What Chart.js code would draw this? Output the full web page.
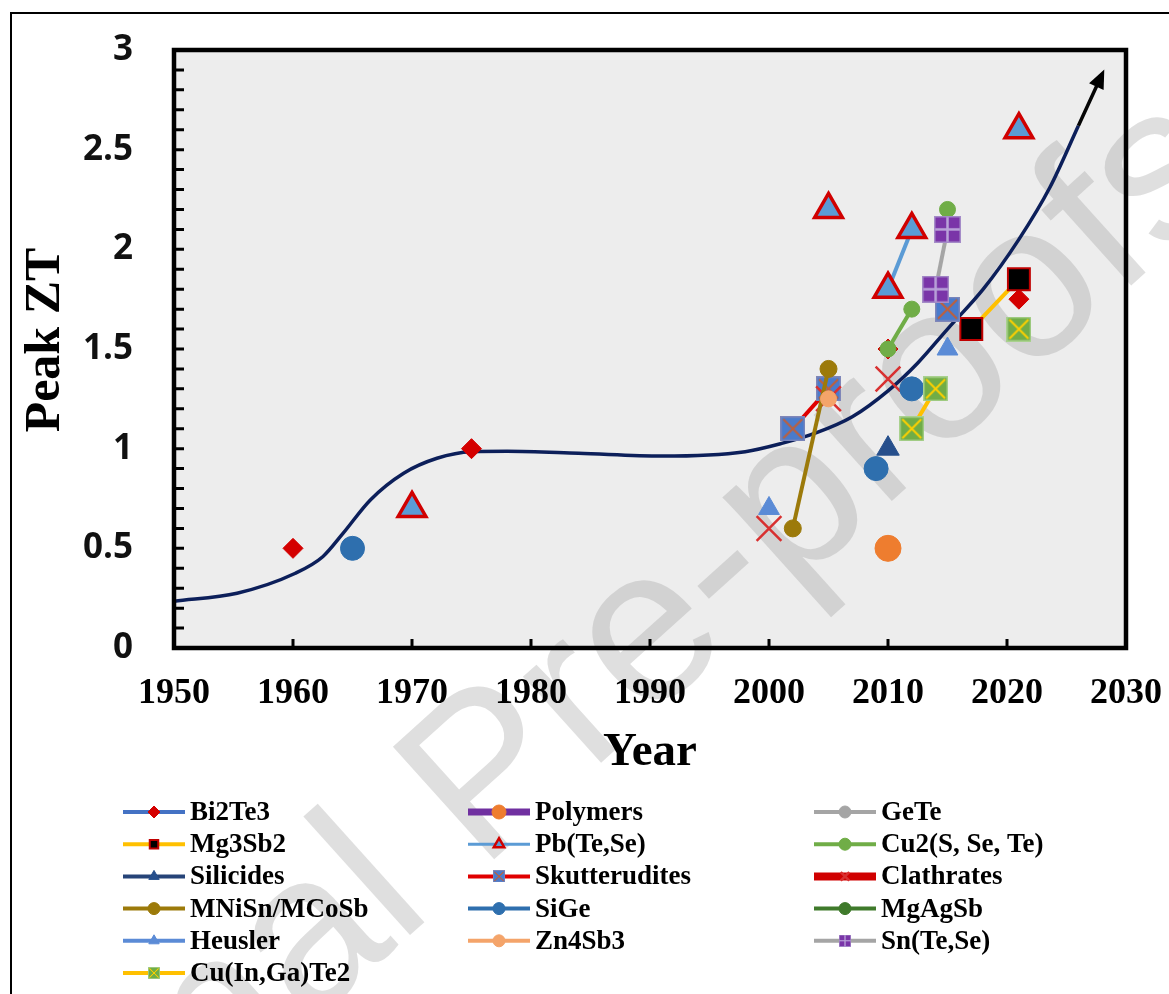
<!DOCTYPE html>
<html>
<head>
<meta charset="utf-8">
<script src="https://cdn.jsdelivr.net/npm/chart.js@4.4.1/dist/chart.umd.min.js"></script>
<style>
  html, body { margin: 0; padding: 0; background: #fff; }
  canvas { display: block; }
</style>
</head>
<body>
<canvas id="myChart" width="1169" height="994"></canvas>
<script>
// values; a null pair breaks the connecting line
const bi2te3Years = [1960, 1975, 2010, 2021]
const bi2te3ZT = [0.5, 1.0, 1.5, 1.75]
const polymerYears = [2010]
const polymerZT = [0.5]
const geteYears = []
const geteZT = []
const mg3sb2Years = [2017, 2021]
const mg3sb2ZT = [1.6, 1.85]
const pbteYears = [1970, null, 2005, null, 2010, 2012, null, 2021]
const pbteZT = [0.7, null, 2.2, null, 1.8, 2.1, null, 2.6]
const cu2Years = [2010, 2012, null, 2015]
const cu2ZT = [1.5, 1.7, null, 2.2]
const silicideYears = [2010]
const silicideZT = [1.0]
const skuttYears = [2002, 2005, null, 2015]
const skuttZT = [1.1, 1.3, null, 1.7]
const clathYears = [2000, 2005, 2010]
const clathZT = [0.6, 1.25, 1.35]
const mnisnYears = [2002, 2005]
const mnisnZT = [0.6, 1.4]
const sigeYears = [1965, 2009, 2012]
const sigeZT = [0.5, 0.9, 1.3]
const mgagsbYears = []
const mgagsbZT = []
const heuslerYears = [2000, 2015]
const heuslerZT = [0.7, 1.5]
const zn4sb3Years = [2005]
const zn4sb3ZT = [1.25]
const sntenYears = [2014, 2015]
const sntenZT = [1.8, 2.1]
const cigtYears = [2012, 2014, null, 2021]
const cigtZT = [1.1, 1.3, null, 1.6]

// hand-drawn trend curve
const curveYears = [1950, 1955.3, 1960.2, 1962.5, 1964.2, 1966.5, 1969.3, 1972.1, 1975, 1978, 1984, 1991, 1998, 2001, 2004, 2007, 2010, 2012.5, 2015, 2018, 2021, 2023.6, 2026, 2028]
const curveZT = [0.235, 0.275, 0.375, 0.458, 0.575, 0.743, 0.877, 0.952, 0.985, 0.987, 0.977, 0.963, 0.985, 1.025, 1.08, 1.16, 1.29, 1.43, 1.6, 1.8, 2.05, 2.31, 2.62, 2.88]

const xTicks = [1950, 1960, 1970, 1980, 1990, 2000, 2010, 2020, 2030]
const yTicks = [0, 0.5, 1, 1.5, 2, 2.5, 3]

const pts = (xs, ys) => xs.map((x, i) => ({ x, y: ys[i] }))

// excel-like boxed markers (x in a square, plus in a square)
function boxMarker (size, fill, edge, lineColor, kind) {
  const c = document.createElement('canvas')
  c.width = size
  c.height = size
  const g = c.getContext('2d')
  g.fillStyle = fill
  g.fillRect(0, 0, size, size)
  g.strokeStyle = lineColor
  g.lineWidth = kind === 'x' ? 2 : 2.5
  g.beginPath()
  if (kind === 'x') {
    g.moveTo(3, 3); g.lineTo(size - 3, size - 3)
    g.moveTo(size - 3, 3); g.lineTo(3, size - 3)
  } else {
    g.moveTo(size / 2, 1); g.lineTo(size / 2, size - 1)
    g.moveTo(1, size / 2); g.lineTo(size - 1, size / 2)
  }
  g.stroke()
  g.strokeStyle = edge
  g.lineWidth = 1.5
  g.strokeRect(0.75, 0.75, size - 1.5, size - 1.5)
  return c
}

const skuttMarker = boxMarker(25, '#4a7bcc', '#7f86b8', '#c0603a', 'x')
const cigtMarker = boxMarker(25, '#70ad47', '#a9d18e', '#ffd000', 'x')
const snteMarker = boxMarker(27, '#7a35a8', '#a58cc8', '#b9a3d9', 'plus')

function series (label, xs, ys, o) {
  return {
    label,
    data: pts(xs, ys),
    showLine: !!o.join,
    spanGaps: false,
    borderColor: o.line,
    borderWidth: 4,
    pointStyle: o.style,
    pointRadius: o.r,
    pointHoverRadius: o.r,
    pointBackgroundColor: o.fill,
    pointBorderColor: o.edge || o.fill,
    pointBorderWidth: o.bw ?? 1,
    legendWidth: o.lw || 4,
    legendR: o.lr || 6,
  }
}

const datasets = [
  series('Bi2Te3', bi2te3Years, bi2te3ZT, { line: '#4472c4', style: 'rectRot', fill: '#d40000', r: 10 }),
  series('Polymers', polymerYears, polymerZT, { line: '#7030a0', style: 'circle', fill: '#ee7d2f', r: 13, lw: 7, lr: 7 }),
  series('GeTe', geteYears, geteZT, { line: '#a5a5a5', style: 'circle', fill: '#a5a5a5', r: 7 }),
  series('Mg3Sb2', mg3sb2Years, mg3sb2ZT, { join: true, line: '#ffc000', style: 'rect', fill: '#000', edge: '#c00000', bw: 2, r: 15.5 }),
  series('Pb(Te,Se)', pbteYears, pbteZT, { join: true, line: '#5b9bd5', style: 'triangle', fill: '#5b9bd5', edge: '#d00000', bw: 3.5, r: 16, lw: 3 }),
  series('Cu2(S, Se, Te)', cu2Years, cu2ZT, { join: true, line: '#70ad47', style: 'circle', fill: '#70ad47', r: 8 }),
  series('Silicides', silicideYears, silicideZT, { line: '#264478', style: 'triangle', fill: '#264f8c', r: 13 }),
  series('Skutterudites', skuttYears, skuttZT, { join: true, line: '#e00000', style: skuttMarker, fill: '#4a7bcc', r: 12 }),
  series('Clathrates', clathYears, clathZT, { line: '#d00000', style: 'crossRot', fill: 'transparent', edge: '#d83030', bw: 2.5, r: 17.5, lw: 8 }),
  series('MNiSn/MCoSb', mnisnYears, mnisnZT, { join: true, line: '#9c7a0a', style: 'circle', fill: '#9c7a0a', r: 8.5 }),
  series('SiGe', sigeYears, sigeZT, { line: '#2e6fae', style: 'circle', fill: '#2e6fae', r: 12 }),
  series('MgAgSb', mgagsbYears, mgagsbZT, { line: '#3f7a2b', style: 'circle', fill: '#3f7a2b', r: 8 }),
  series('Heusler', heuslerYears, heuslerZT, { line: '#5b8bd6', style: 'triangle', fill: '#5b8bd6', r: 12 }),
  series('Zn4Sb3', zn4sb3Years, zn4sb3ZT, { line: '#f4a46a', style: 'circle', fill: '#f4a46a', r: 8 }),
  series('Sn(Te,Se)', sntenYears, sntenZT, { join: true, line: '#a5a5a5', style: snteMarker, fill: '#7a35a8', r: 13 }),
  series('Cu(In,Ga)Te2', cigtYears, cigtZT, { join: true, line: '#ffc000', style: cigtMarker, fill: '#70ad47', r: 12 }),
]
// excel draws later series on top
datasets.forEach((d, i) => { d.order = 50 - i })

datasets.push({
  label: 'trend',
  isTrend: true,
  data: pts(curveYears, curveZT),
  showLine: true,
  borderColor: '#0c1f5a',
  borderWidth: 3.5,
  pointRadius: 0,
  cubicInterpolationMode: 'monotone',
  segment: { borderColor: c => c.p0.parsed.x >= 2025.5 ? '#050505' : undefined },
  order: 100,
})

const legendCols = [123, 468, 814]
const legendRow0 = 812
const legendRowGap = 32.2

// scales must not push the plot area inward for label overflow
const noOverflow = s => {
  s.paddingTop = 0
  s.paddingBottom = 0
  s.paddingLeft = 0
  s.paddingRight = 0
}

const framePlugin = {
  id: 'frame',
  beforeDraw (chart) {
    const { ctx, chartArea: a } = chart
    ctx.save()
    ctx.fillStyle = '#fff'
    ctx.fillRect(0, 0, chart.width, chart.height)
    ctx.fillStyle = '#ededed'
    ctx.fillRect(a.left, a.top, a.right - a.left, a.bottom - a.top)
    // publisher watermark
    ctx.translate(-101, 1395)
    ctx.rotate(-42 * Math.PI / 180)
    ctx.font = '220px "Liberation Sans"'
    ctx.fillStyle = 'rgba(150,150,150,0.3)'
    ctx.textBaseline = 'alphabetic'
    ctx.fillText('Journal Pre-proofs', 0, 0)
    ctx.restore()
  },
  afterDatasetsDraw (chart) {
    const meta = chart.getDatasetMeta(datasets.length - 1)
    const els = meta.data
    const tip = els[els.length - 1]
    const prev = els[els.length - 2]
    const bx = tip.cp1x !== undefined ? tip.cp1x : prev.x
    const by = tip.cp1y !== undefined ? tip.cp1y : prev.y
    const ang = Math.atan2(tip.y - by, tip.x - bx)
    const { ctx } = chart
    ctx.save()
    ctx.translate(tip.x, tip.y)
    ctx.rotate(ang)
    ctx.fillStyle = '#000'
    ctx.beginPath()
    ctx.moveTo(5, 0)
    ctx.lineTo(-14, -8)
    ctx.lineTo(-14, 8)
    ctx.closePath()
    ctx.fill()
    ctx.restore()
  },
  afterDraw (chart) {
    const { ctx, chartArea: a, scales } = chart
    ctx.save()
    // inward tick marks
    ctx.strokeStyle = '#000'
    ctx.lineWidth = 3
    ctx.beginPath()
    for (let k = 1; k < 30; k++) {
      const y = scales.y.getPixelForValue(k / 10)
      ctx.moveTo(a.left, y)
      ctx.lineTo(a.left + 10, y)
    }
    for (const t of xTicks.slice(1, -1)) {
      const x = scales.x.getPixelForValue(t)
      ctx.moveTo(x, a.bottom)
      ctx.lineTo(x, a.bottom - 9)
    }
    ctx.stroke()
    ctx.lineWidth = 4.5
    ctx.strokeRect(a.left, a.top, a.right - a.left, a.bottom - a.top)
    // outer frame
    ctx.lineWidth = 2
    ctx.strokeRect(11, 13, 1300, 1200)

    // axis titles
    ctx.fillStyle = '#000'
    ctx.textAlign = 'center'
    ctx.textBaseline = 'middle'
    ctx.font = 'bold 47px "Liberation Serif"'
    ctx.fillText('Year', (a.left + a.right) / 2, 753)
    ctx.save()
    ctx.translate(46, 340)
    ctx.rotate(-Math.PI / 2)
    ctx.font = 'bold 50px "Liberation Serif"'
    ctx.fillText('Peak ZT', 0, 0)
    ctx.restore()

    // legend: line + marker + name, three columns
    ctx.textAlign = 'left'
    ctx.font = 'bold 27px "Liberation Serif"'
    datasets.forEach((d, i) => {
      if (d.isTrend) return
      const x0 = legendCols[i % 3]
      const y = legendRow0 + Math.floor(i / 3) * legendRowGap
      ctx.strokeStyle = d.borderColor
      ctx.lineWidth = d.legendWidth
      ctx.beginPath()
      ctx.moveTo(x0, y)
      ctx.lineTo(x0 + 62, y)
      ctx.stroke()
      const mx = x0 + 31
      if (d.pointStyle instanceof HTMLCanvasElement) {
        ctx.drawImage(d.pointStyle, mx - 6, y - 6, 12, 12)
      } else {
        ctx.fillStyle = d.pointBackgroundColor
        ctx.strokeStyle = d.pointBorderColor
        ctx.lineWidth = Math.min(d.pointBorderWidth, 2.5)
        Chart.helpers.drawPoint(ctx, {
          pointStyle: d.pointStyle, rotation: 0, radius: d.legendR, borderWidth: ctx.lineWidth,
        }, mx, y)
      }
      ctx.fillStyle = '#000'
      ctx.fillText(d.label, x0 + 67, y + 1)
    })
    ctx.restore()
  },
}

new Chart(document.getElementById('myChart'), {
  type: 'scatter',
  data: { datasets },
  options: {
    responsive: false,
    animation: false,
    events: [],
    layout: { padding: { top: 50, right: 43, left: 0, bottom: 0 } },
    plugins: { legend: { display: false }, tooltip: { enabled: false } },
    scales: {
      x: {
        type: 'linear',
        min: 1950,
        max: 2030,
        afterBuildTicks: s => { s.ticks = xTicks.map(v => ({ value: v })) },
        afterFit: s => { s.height = 346; noOverflow(s) },
        ticks: {
          callback: v => String(v),
          maxRotation: 0,
          autoSkip: false,
          padding: 24,
          color: '#000',
          font: { family: 'Liberation Serif', size: 36, weight: 'bold' },
        },
        grid: { display: false, drawTicks: false },
        border: { display: false },
      },
      y: {
        min: 0,
        max: 3,
        afterBuildTicks: s => { s.ticks = yTicks.map(v => ({ value: v })) },
        afterFit: s => { s.width = 174; noOverflow(s) },
        ticks: {
          callback: v => String(v),
          padding: 41,
          color: '#111',
          font: { family: 'Open Sans', size: 35, weight: 'bold' },
        },
        grid: { display: false, drawTicks: false },
        border: { display: false },
      },
    },
  },
  plugins: [framePlugin],
})
</script>
</body>
</html>
